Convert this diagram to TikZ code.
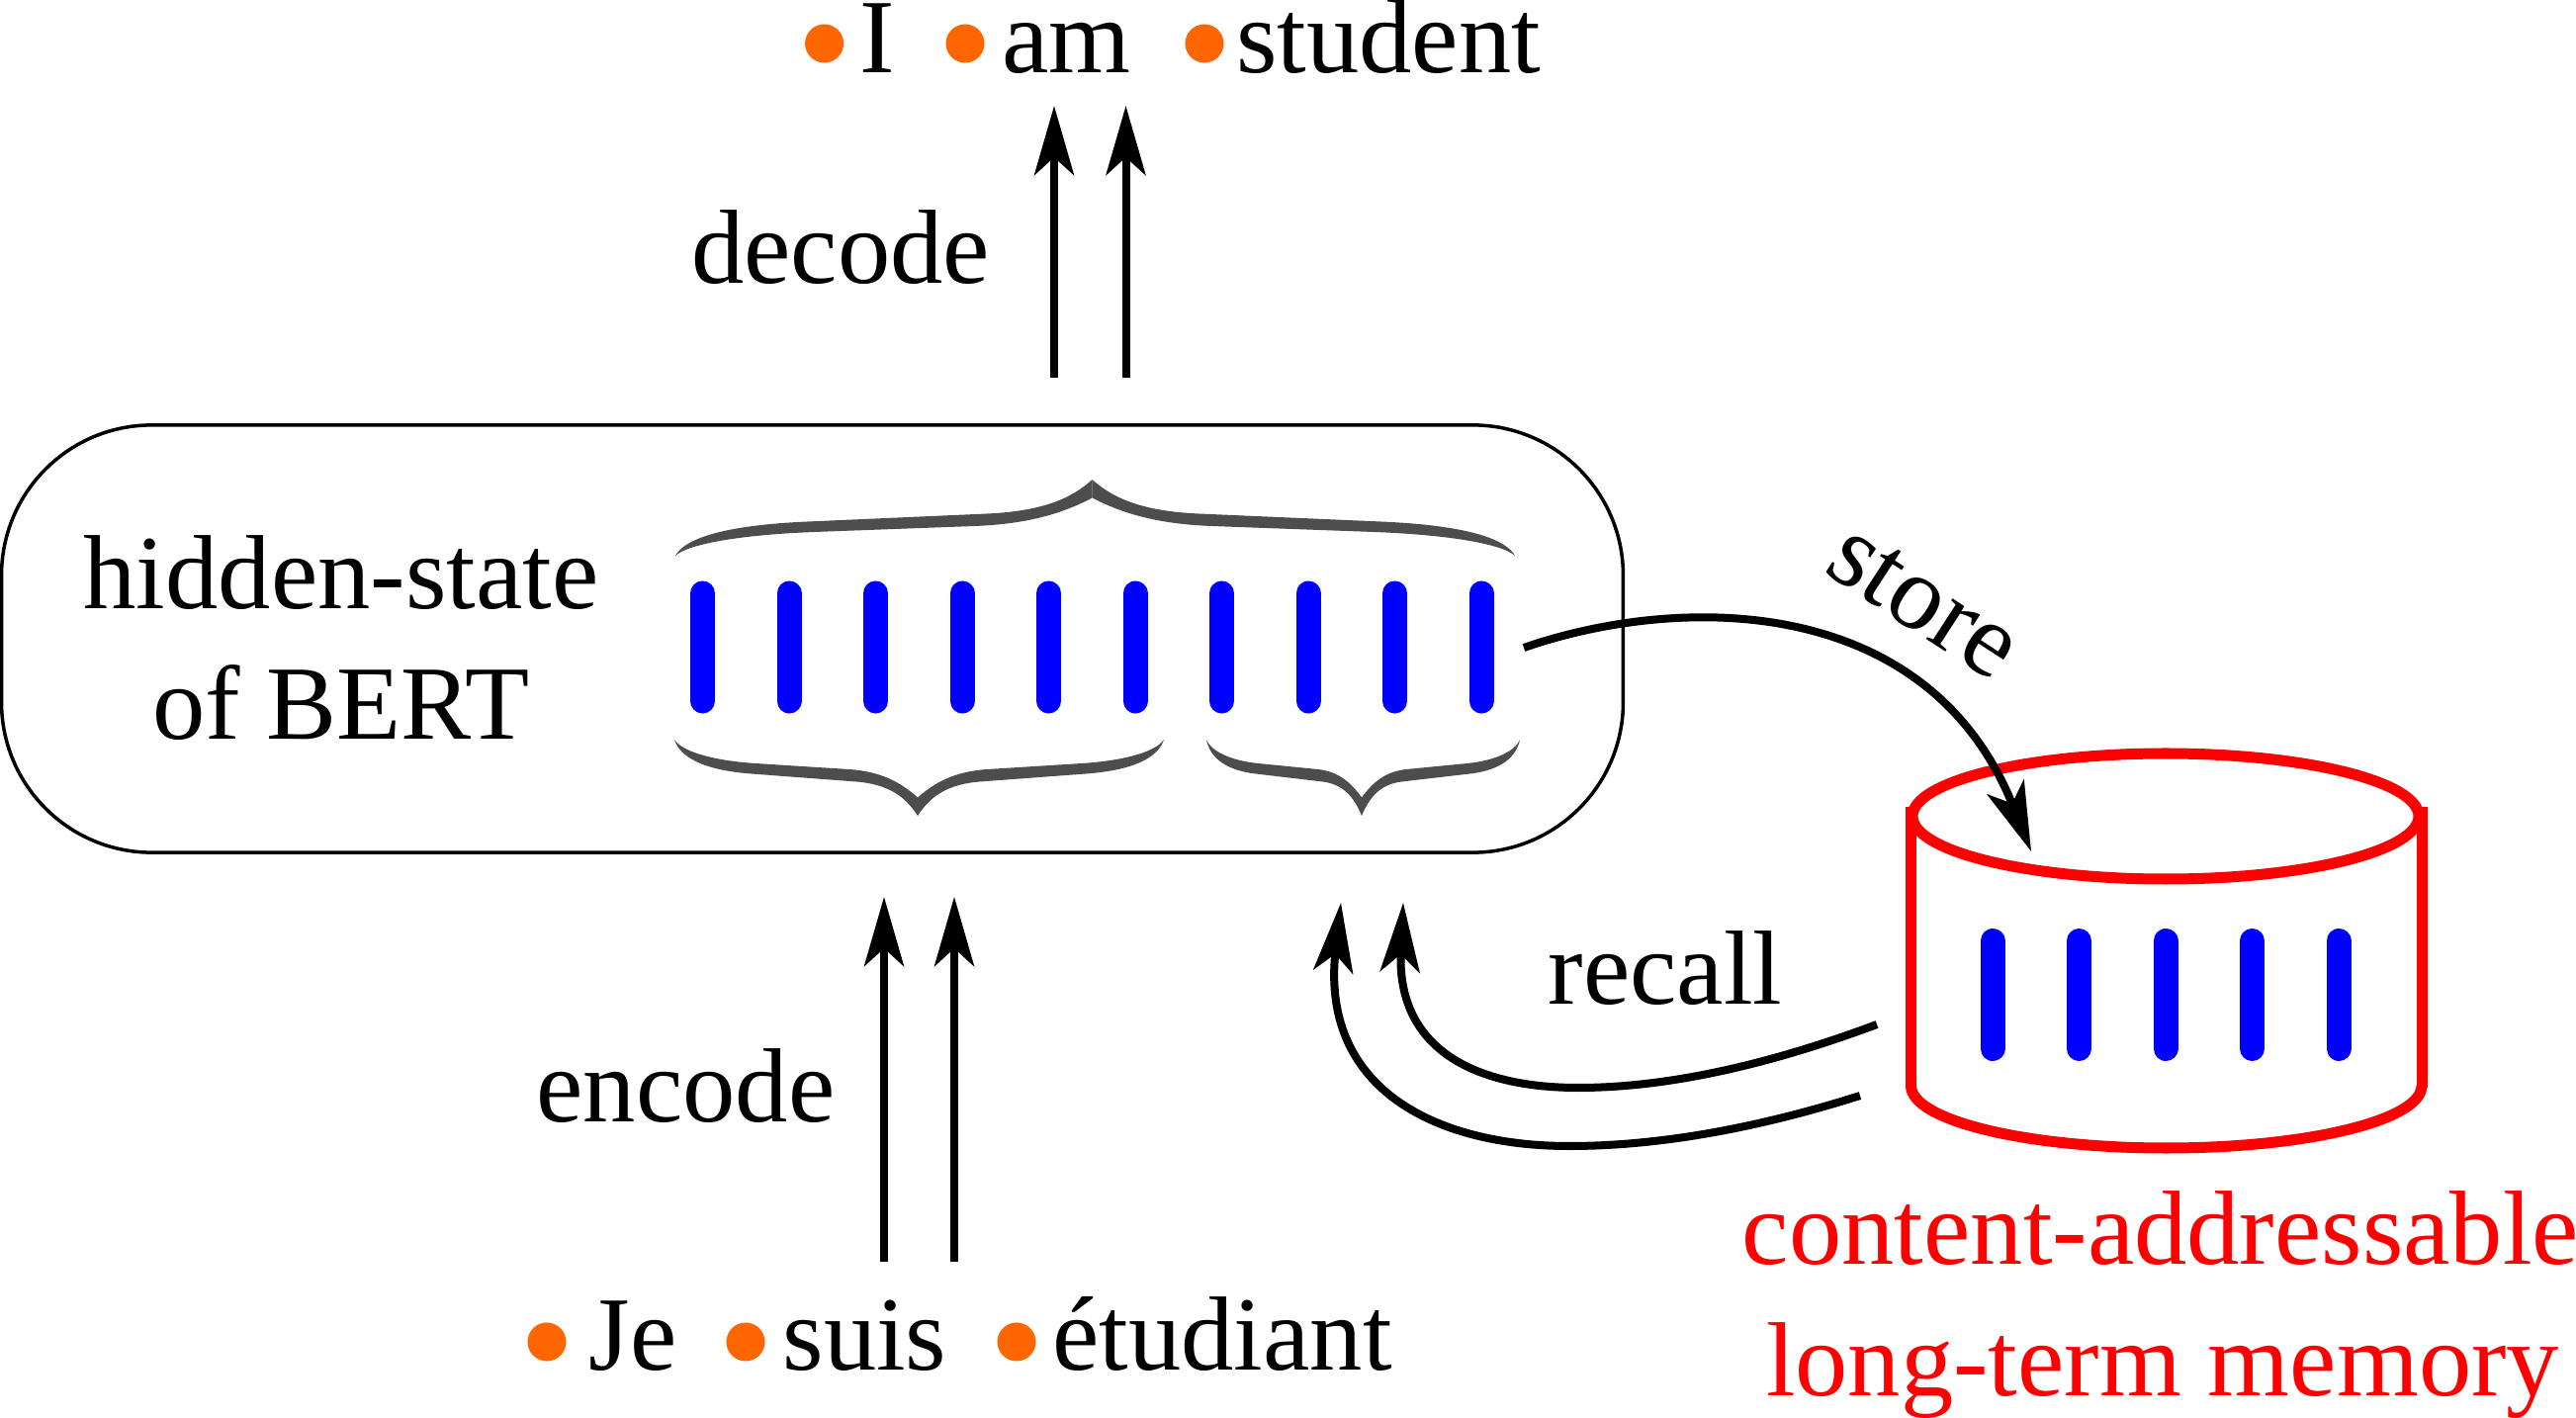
\documentclass[tikz,border=0pt]{standalone}
\usepackage{fontspec}
\setmainfont{Liberation Serif}
\usetikzlibrary{arrows.meta}
\definecolor{dotorange}{HTML}{FF6600}
\definecolor{bracegray}{HTML}{4D4D4D}
\tikzset{
  label/.style={font=\fontsize{30.3}{37.5}\selectfont, inner sep=0pt, align=center},
  word/.style={label, anchor=base},
  bluebar/.style={blue, line width=0.25cm, line cap=round},
  flow/.style={line width=0.08cm, -{Stealth[length=0.7cm,width=0.4cm,inset=0.18cm]}},
  memline/.style={red, line width=0.11cm},
  dot/.style={circle, fill=dotorange, minimum size=0.39cm, inner sep=0pt}
}
\begin{document}
\begin{tikzpicture}[x=0.01cm, y=-0.01cm]
\useasboundingbox (0,0) rectangle (2605,1434);
% hidden state
\node[draw, line width=0.035cm, rounded corners=1.52cm, minimum width=16.39cm, minimum height=4.32cm, inner sep=0pt] (state) at (821.5,646) {};
\node[label] (hidden) at (345,645) {hidden-state\\of BERT};
\foreach \x in {0,...,9}
\draw[bluebar] (710.5+87.5*\x,600) -- (710.5+87.5*\x,709);
% half braces, x / length / y / height
\foreach \xa/\len/\ya/\hgt in {683/421.5/562/-77, 1532/-427.5/562/-77, 682/246/748/77, 1177/-249/748/77, 1220/157/748/77, 1537/-160/748/77}
\fill[bracegray, shift={(\xa,\ya)}, xscale=\len, yscale=\hgt] (0,0) .. controls (.02,.2) and (.1,.4) .. (.325,.45) -- (.74,.55) .. controls (.88,.58) and (.95,.75) .. (1,1) -- (1,.76) .. controls (.93,.56) and (.85,.42) .. (.72,.39) -- (.325,.31) .. controls (.15,.27) and (.03,.15) .. cycle;
% memory
\draw[memline] (2190,825.5) ellipse [x radius=256, y radius=63.5];
\draw[memline] (1932.5,816) -- (1932.5,1100);
\draw[memline] (2449,816) -- (2449,1100);
\draw[memline] (1932.5,1098) arc [start angle=180, end angle=360, x radius=258.25, y radius=-63];
\foreach \x in {0,...,4}
\draw[bluebar] (2015+87.5*\x,951.5) -- (2015+87.5*\x,1060.5);
\node[label, red, anchor=base] (memtop) at (2185,1278) {content-addressable};
\node[label, red, anchor=base] (membot) at (2187,1411.6) {long-term memory};
% target words
\node[word] (wi) at (887,74) {I};
\node[word] (wam) at (1078.6,74) {am};
\node[word] (wstudent) at (1404,74) {student};
\node[dot] (di) at (833.6,44) {};
\node[dot] (dam) at (976,44) {};
\node[dot] (dstudent) at (1218,44) {};
% source words
\node[word] (wje) at (640,1385) {Je};
\node[word] (wsuis) at (874.5,1385) {suis};
\node[word] (wetud) at (1236,1385) {étudiant};
\node[dot] (dje) at (553,1357) {};
\node[dot] (dsuis) at (754,1357) {};
\node[dot] (detud) at (1028,1357) {};
% ends of the arrows
\coordinate (deca) at (1066,382);
\coordinate (decb) at (1138.5,382);
\coordinate (dectipa) at (1066,107);
\coordinate (dectipb) at (1138.5,107);
\coordinate (enca) at (894,1276);
\coordinate (encb) at (965,1276);
\coordinate (enctipa) at (894,907);
\coordinate (enctipb) at (965,907);
\coordinate (storea) at (1541,655);
\coordinate (storeb) at (2054,861);
\coordinate (reca) at (1898,1036);
\coordinate (recb) at (1881,1108);
\coordinate (rectipa) at (1419,913);
\coordinate (rectipb) at (1356,913);
\draw[flow] (deca) -- (dectipa);
\draw[flow] (decb) -- (dectipb);
\draw[flow] (enca) -- (enctipa);
\draw[flow] (encb) -- (enctipb);
\draw[flow] (storea) .. controls (1700,600) and (1950,600) .. (storeb);
\draw[flow] (reca) .. controls (1780,1080) and (1680,1100) .. (1596,1100) .. controls (1490,1100) and (1412,1060) .. (rectipa);
\draw[flow] (recb) .. controls (1780,1140) and (1680,1159) .. (1587,1159) .. controls (1450,1159) and (1335,1100) .. (rectipb);
% arrow labels
\node[word] (ldecode) at (850,287) {decode};
\node[word] (lencode) at (693.5,1134) {encode};
\node[word] (lrecall) at (1684,1016) {recall};
\node[label, rotate=-33] (lstore) at (1945,609) {store};
\end{tikzpicture}
\end{document}
